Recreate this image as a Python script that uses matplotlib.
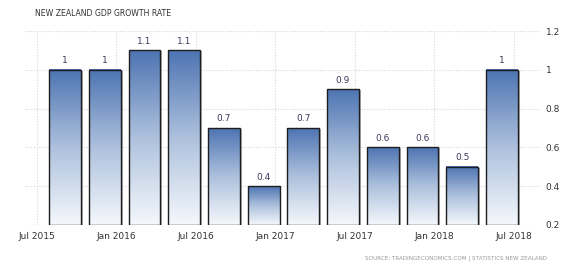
import matplotlib
matplotlib.use("Agg")
import matplotlib.pyplot as plt
import numpy as np
from matplotlib.patches import Rectangle
from matplotlib.colors import LinearSegmentedColormap

quarters = ["2015Q3", "2015Q4", "2016Q1", "2016Q2", "2016Q3", "2016Q4",
            "2017Q1", "2017Q2", "2017Q3", "2017Q4", "2018Q1", "2018Q2"]
values = [1.0, 1.0, 1.1, 1.1, 0.7, 0.4, 0.7, 0.9, 0.6, 0.6, 0.5, 1.0]
value_labels = ["1", "1", "1.1", "1.1", "0.7", "0.4", "0.7", "0.9", "0.6", "0.6", "0.5", "1"]
xtick_labels = ["Jul 2015", "Jan 2016", "Jul 2016", "Jan 2017", "Jul 2017", "Jan 2018", "Jul 2018"]
ytick_values = [0.2, 0.4, 0.6, 0.8, 1.0, 1.2]
ytick_labels = ["0.2", "0.4", "0.6", "0.8", "1", "1.2"]

plt.rcParams['font.family'] = ['DejaVu Sans']

fig = plt.figure(figsize=(5.71, 2.69), dpi=100)
ax = fig.add_axes([0.0438, 0.1636, 0.902, 0.721])

ymin, ymax = 0.2, 1.2
x = np.arange(len(values))
w = 0.8
ax.set_xlim(-1.008, 11.96)
ax.set_ylim(ymin, ymax)

grad = np.linspace(0, 1, 256).reshape(-1, 1)
cmap = LinearSegmentedColormap.from_list("g", ["#f5f8fc", "#adc1dd", "#4d74b2"])

for xi, v, lab in zip(x, values, value_labels):
    ax.add_patch(Rectangle((xi - w / 2 + 0.05, ymin), w, v - ymin - 0.005,
                           facecolor="#a0a0a0", edgecolor="none", zorder=2, alpha=0.8))
    ax.imshow(grad, extent=(xi - w / 2, xi + w / 2, ymin, v), origin="lower",
              cmap=cmap, aspect="auto", zorder=3)
    ax.add_patch(Rectangle((xi - w / 2, ymin), w, v - ymin, facecolor="none",
                           edgecolor="#1e1e1e", linewidth=1.0, zorder=4))
    ax.text(xi, v + 0.047, lab, ha="center", va="center", fontsize=6.5,
            color="#3e3a5a", zorder=5)

xticks = [-0.705 + 2 * i for i in range(len(xtick_labels))]
ax.set_xticks(xticks)
ax.set_xticklabels(xtick_labels, fontsize=6.5, color="#333333")
ax.set_yticks(ytick_values)
ax.set_yticklabels(ytick_labels, fontsize=6.5, color="#333333")
ax.yaxis.tick_right()
ax.tick_params(axis="both", length=0, pad=4)
ax.tick_params(axis="x", pad=5)
ax.grid(True, linestyle=(0, (1, 1.5)), color="#d6d6d6", linewidth=0.8, zorder=0)
ax.set_axisbelow(True)
for s in ax.spines.values():
    s.set_visible(False)

fig.text(35 / 571, 1 - 13 / 269, "NEW ZEALAND GDP GROWTH RATE", fontsize=5.6,
         color="#333333", ha="left", va="center")
fig.text(547 / 571, 1 - 258 / 269, "SOURCE: TRADINGECONOMICS.COM | STATISTICS NEW ZEALAND",
         fontsize=4.1, color="#9a9a9a", ha="right", va="center")

fig.savefig("out.png", dpi=100)
